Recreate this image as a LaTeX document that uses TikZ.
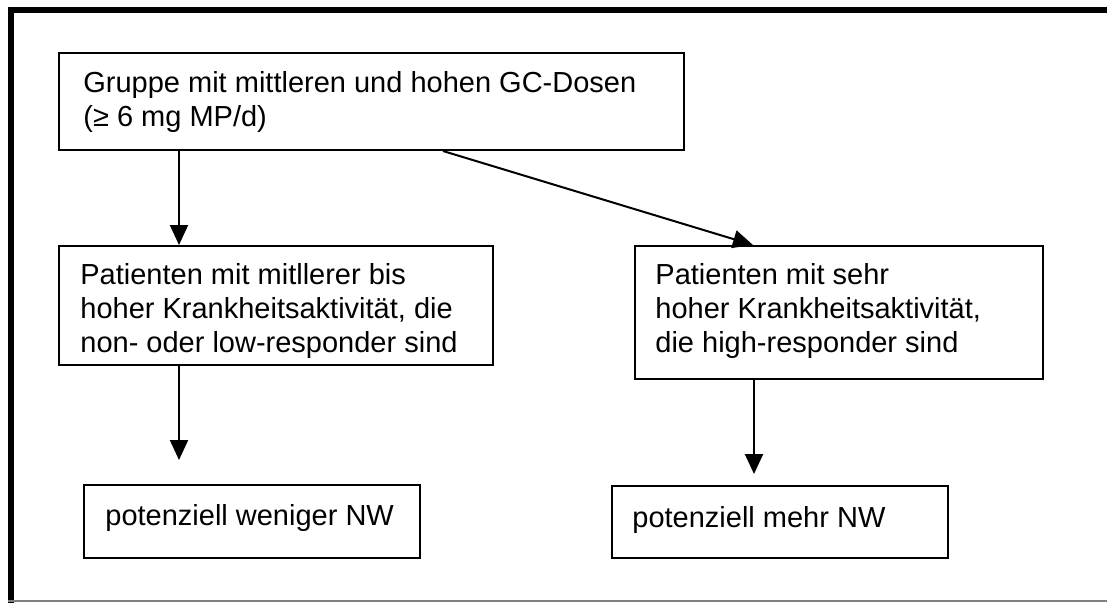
\documentclass[tikz,border=0pt]{standalone}
\usepackage{fontspec}
\setmainfont{Liberation Sans}
\usetikzlibrary{arrows.meta}
\begin{document}
\begin{tikzpicture}[x=0.5pt,y=-0.5pt,
  box/.style={draw=black, line width=1pt, rectangle, inner sep=0pt, anchor=north west},
  txt/.style={anchor=north west, inner sep=0pt, align=left, font=\fontsize{14.5}{17}\selectfont},
  arr/.style={draw=black, line width=1pt, -{Triangle[length=10pt,width=9pt]}}]
\useasboundingbox (0,0) rectangle (1107,602);
% outer frame
\draw[line width=3pt, line cap=rect] (11,601) -- (11,10) -- (1107,10);
\draw[line width=0.6pt, gray] (8,601) -- (1107,601);
% boxes
\node[box, minimum width=312.5pt, minimum height=48.5pt] (top) at (58,52) {};
\node[box, minimum width=217pt, minimum height=59.5pt] (ml) at (58,245) {};
\node[box, minimum width=204pt, minimum height=66.5pt] (mr) at (634,245) {};
\node[box, minimum width=168pt, minimum height=36.5pt] (bl) at (83,484) {};
\node[box, minimum width=168pt, minimum height=36pt] (br) at (611,485) {};
% texts
\node[txt] (ttop) at ([xshift=12.5pt,yshift=-9.5pt]top.north west) {Gruppe mit mittleren und hohen GC-Dosen\\(≥ 6 mg MP/d)};
\node[txt] (tml) at ([xshift=11pt,yshift=-9pt]ml.north west) {Patienten mit mitllerer bis\\hoher Krankheitsaktivität, die\\non- oder low-responder sind};
\node[txt] (tmr) at ([xshift=10.5pt,yshift=-9pt]mr.north west) {Patienten mit sehr\\hoher Krankheitsaktivität,\\die high-responder sind};
\node[txt] (tbl) at ([xshift=11pt,yshift=-10pt]bl.north west) {potenziell weniger NW};
\node[txt] (tbr) at ([xshift=10.5pt,yshift=-10.5pt]br.north west) {potenziell mehr NW};
% connectors
\coordinate (e1) at ([xshift=48pt,yshift=12pt]bl.north west);
\coordinate (e2) at ([xshift=71.5pt,yshift=5.5pt]br.north west);
\draw[arr] ([xshift=60.5pt]top.south west) -- ([xshift=60.5pt]ml.north west);
\draw[arr] ([xshift=192.5pt]top.south west) -- ([xshift=59.5pt]mr.north west);
\draw[arr] ([xshift=60.5pt]ml.south west) -- (e1);
\draw[arr] ([xshift=60pt]mr.south west) -- (e2);
\end{tikzpicture}
\end{document}
